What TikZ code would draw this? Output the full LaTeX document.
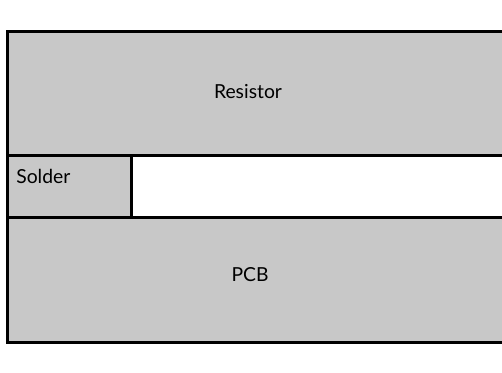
\documentclass[tikz,border=0pt]{standalone}
\usepackage{fontspec}
\setmainfont{Lato}
\definecolor{layer}{RGB}{200, 200, 200}
\usetikzlibrary{positioning}

\begin{document}
\begin{tikzpicture}[x=0.02cm, y=-0.02cm, inner sep=0pt]
  \tikzset{layerbox/.style={draw=black, fill=layer, line width=1.7pt},
           layertext/.style={font=\fontsize{11}{13}\selectfont}}

  \useasboundingbox (0, 0) rectangle (502, 372);

  % layers
  \draw[layerbox] (7.5, 31.5) rectangle (515, 155.5);
  \draw[layerbox] (7.5, 155.5) rectangle (131.5, 217.5);
  \draw[draw=black, fill=white, line width=1.7pt] (131.5, 155.5) rectangle (515, 217.5);
  \draw[layerbox] (7.5, 217.5) rectangle (515, 342.5);

  % labels
  \node[layertext] (R) at (248, 92) {Resistor};
  \node[layertext, anchor=west] (S) at (16, 176) {Solder};
  \node[layertext] (P) at (250, 275) {PCB};

\end{tikzpicture}
\end{document}
